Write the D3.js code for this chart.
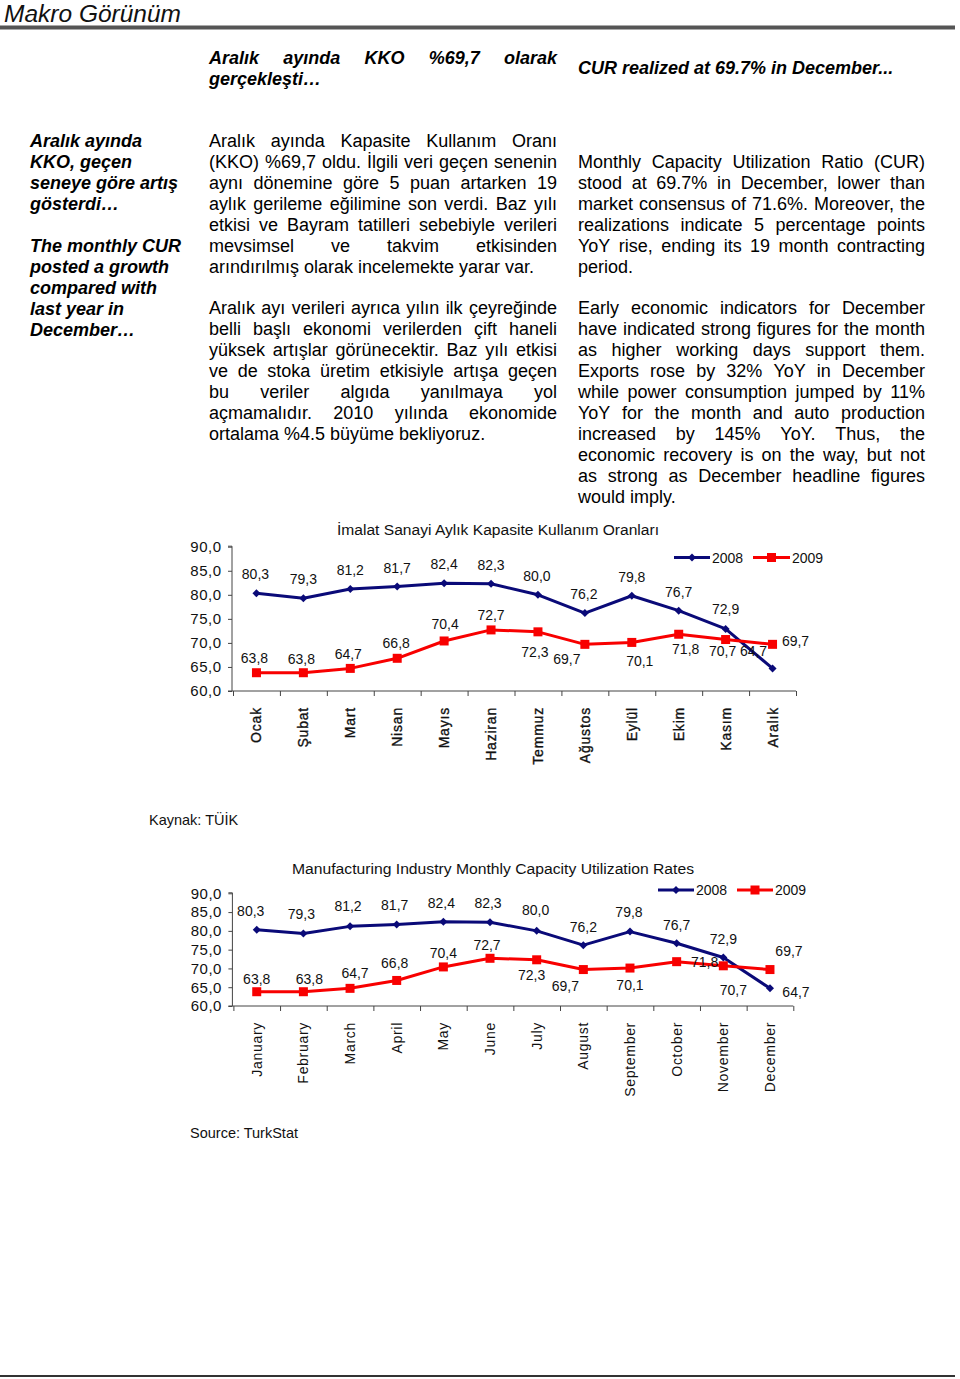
<!DOCTYPE html>
<html><head><meta charset="utf-8">
<script src="https://cdn.jsdelivr.net/npm/d3@7"></script>
<style>
html,body{margin:0;padding:0;background:#fff;}
svg{display:block;}
</style></head>
<body>
<svg id="page" width="960" height="1379"></svg>
<script>
// ---------- DATA ----------
const monthsTR = ["Ocak","Şubat","Mart","Nisan","Mayıs","Haziran","Temmuz","Ağustos","Eylül","Ekim","Kasım","Aralık"];
const monthsEN = ["January","February","March","April","May","June","July","August","September","October","November","December"];
const seriesNames = ["2008","2009"];
const cur2008 = [80.3,79.3,81.2,81.7,82.4,82.3,80.0,76.2,79.8,76.7,72.9,64.7];
const cur2009 = [63.8,63.8,64.7,66.8,70.4,72.7,72.3,69.7,70.1,71.8,70.7,69.7];
const yTicks = [60,65,70,75,80,85,90];
const titleTR = "İmalat Sanayi Aylık Kapasite Kullanım Oranları";
const titleEN = "Manufacturing Industry Monthly Capacity Utilization Rates";
const sourceTR = "Kaynak: TÜİK";
const sourceEN = "Source: TurkStat";

const pageTitle = "Makro Görünüm";
const headTR = ["Aralık ayında KKO %69,7 olarak","gerçekleşti…"];
const headEN = ["CUR realized at 69.7% in December..."];
const sideNote1 = ["Aralık ayında","KKO, geçen","seneye göre artış","gösterdi…"];
const sideNote2 = ["The monthly CUR","posted a growth","compared with","last year in","December…"];
const trPara1 = ["Aralık ayında Kapasite Kullanım Oranı","(KKO) %69,7 oldu. İlgili veri geçen senenin","aynı dönemine göre 5 puan artarken 19","aylık gerileme eğilimine son verdi. Baz yılı","etkisi ve Bayram tatilleri sebebiyle verileri","mevsimsel ve takvim etkisinden","arındırılmış olarak incelemekte yarar var."];
const trPara2 = ["Aralık ayı verileri ayrıca yılın ilk çeyreğinde","belli başlı ekonomi verilerden çift haneli","yüksek artışlar görünecektir. Baz yılı etkisi","ve de stoka üretim etkisiyle artışa geçen","bu veriler algıda yanılmaya yol","açmamalıdır. 2010 yılında ekonomide","ortalama %4.5 büyüme bekliyoruz."];
const enPara1 = ["Monthly Capacity Utilization Ratio (CUR)","stood at 69.7% in December, lower than","market consensus of 71.6%. Moreover, the","realizations indicate 5 percentage points","YoY rise, ending its 19 month contracting","period."];
const enPara2 = ["Early economic indicators for December","have indicated strong figures for the month","as higher working days support them.","Exports rose by 32% YoY in December","while power consumption jumped by 11%","YoY for the month and auto production","increased by 145% YoY. Thus, the","economic recovery is on the way, but not","as strong as December headline figures","would imply."];

// label placement offsets (pixels, relative to marker)
const lab1_2008 = [[-1,-19],[0,-19],[0,-19],[0,-19],[0,-19],[0,-19],[-1,-19],[-1,-19],[0,-19],[0,-19],[0,-20],[-19,-17]];
const lab1_2009 = [[-2,-15],[-2,-14],[-2,-14],[-1,-15],[1,-17],[0,-15],[-3,20],[-18,15],[8,19],[7,15],[-3,11],[23,-3]];
const lab2_2008 = [[-6,-19],[-2,-20],[-2,-20],[-2,-20],[-2,-19],[-2,-19],[-1,-21],[0,-18],[-1,-20],[0,-18],[0,-19],[26,4]];
const lab2_2009 = [[0,-13],[6,-13],[5,-15],[-2,-17],[0,-14],[-3,-13],[-5,15],[-18,16],[0,17],[28,0],[10,24],[19,-19]];

// ---------- PAGE ----------
const FONT = "'Liberation Sans', Arial, sans-serif";
const svg = d3.select("#page");

svg.append("text").attr("x",4).attr("y",22).attr("font-family",FONT).attr("font-style","italic")
  .attr("font-size",24.5).attr("fill","#111").text(pageTitle);
svg.append("rect").attr("x",0).attr("y",25.5).attr("width",955).attr("height",4).attr("fill","#555");
svg.append("rect").attr("x",0).attr("y",1375).attr("width",955).attr("height",2).attr("fill","#333");

function measure(str, attrs){
  const t = svg.append("text").attr("font-family",FONT);
  Object.entries(attrs).forEach(([k,v])=>t.attr(k,v));
  t.text(str);
  const w = t.node().getComputedTextLength();
  t.remove();
  return w;
}
function textBlock(lines, x0, x1, y0, lh, attrs, justifyLast){
  lines.forEach((ln,i)=>{
    const y = y0 + i*lh;
    const last = i === lines.length-1;
    const justify = x1 !== null && (!last || justifyLast);
    const words = ln.split(" ");
    if(!justify || words.length<2){
      const t = svg.append("text").attr("x",x0).attr("y",y).attr("font-family",FONT).attr("fill","#000");
      Object.entries(attrs).forEach(([k,v])=>t.attr(k,v));
      t.text(ln);
      return;
    }
    const ws = words.map(w=>measure(w,attrs));
    const total = d3.sum(ws);
    const gap = (x1-x0-total)/(words.length-1);
    let x = x0;
    words.forEach((w,j)=>{
      const t = svg.append("text").attr("x",x).attr("y",y).attr("font-family",FONT).attr("fill","#000");
      Object.entries(attrs).forEach(([k,v])=>t.attr(k,v));
      t.text(w);
      x += ws[j]+gap;
    });
  });
}
const bodyA = {"font-size":18};
const boldIt = {"font-size":18,"font-weight":"bold","font-style":"italic"};

textBlock(headTR, 209, 557, 64, 21, boldIt, false);
textBlock(headEN, 578, null, 74, 21, boldIt, false);
textBlock(sideNote1, 30, null, 147, 21, boldIt, false);
textBlock(sideNote2, 30, null, 252, 21, boldIt, false);
textBlock(trPara1, 209, 557, 147, 21, bodyA, false);
textBlock(trPara2, 209, 557, 314, 21, bodyA, false);
textBlock(enPara1, 578, 925, 168, 21, bodyA, false);
textBlock(enPara2, 578, 925, 314, 21, bodyA, false);

// ---------- CHARTS ----------
function drawChart(cfg){
  const g = svg.append("g");
  const x = d3.scaleBand().domain(cfg.months).range([cfg.x0, cfg.x1]);
  const xt = d3.scaleLinear().domain([0,12]).range([cfg.x0, cfg.x1]);
  const y = d3.scaleLinear().domain([60,90]).range([cfg.yBottom, cfg.yTop]);
  const cx = m => x(m) + x.bandwidth()/2;

  // title
  g.append("text").attr("x",cfg.titleX).attr("y",cfg.titleY).attr("text-anchor","middle")
    .attr("font-family",FONT).attr("font-size",14).attr("fill","#111")
    .attr("textLength",cfg.titleW).attr("lengthAdjust","spacingAndGlyphs").text(cfg.title);

  // y axis
  const ya = g.append("g").attr("transform",`translate(${cfg.x0-1},0)`)
    .call(d3.axisLeft(y).tickValues(yTicks).tickSize(4).tickPadding(7)
      .tickFormat(d=>d3.format(".1f")(d).replace(".",",")));
  ya.select(".domain").attr("stroke","#444").attr("d",`M-4,${cfg.yBottom}H0V${cfg.yTop-0.5}H-4`);
  ya.selectAll(".tick line").attr("stroke","#444");
  ya.selectAll(".tick text").attr("font-family",FONT).attr("font-size",15).attr("fill","#111")
    .attr("letter-spacing",0.5).attr("dx",0.5);

  // x axis
  const xa = g.append("g").attr("transform",`translate(0,${cfg.yBottom})`)
    .call(d3.axisBottom(xt).tickValues(d3.range(13)).tickSize(5).tickFormat(""));
  xa.select(".domain").attr("stroke","#444").attr("d",`M${cfg.x0-1},0H${cfg.x1}`);
  xa.selectAll(".tick line").attr("stroke","#444");

  // month labels
  g.selectAll(".mlab").data(cfg.months).enter().append("text")
    .attr("transform",d=>`translate(${cx(d)+5},${cfg.labTop}) rotate(-90)`)
    .attr("text-anchor","end").attr("font-family",FONT).attr("font-size",14)
    .attr("letter-spacing",cfg.monthLS).attr("fill","#111")
    .attr("stroke","#111").attr("stroke-width",cfg.monthStroke)
    .text(d=>d);

  const series = [
    {name:seriesNames[0], vals:cur2008, color:"#0a0a78", offs:cfg.off2008, marker:"diamond"},
    {name:seriesNames[1], vals:cur2009, color:"#f80000", offs:cfg.off2009, marker:"square"}
  ];
  const line = d3.line().x((d,i)=>cx(cfg.months[i])).y(d=>y(d));
  series.forEach(s=>{
    g.append("path").attr("d",line(s.vals)).attr("fill","none").attr("stroke",s.color)
      .attr("stroke-width",3).attr("stroke-linejoin","round");
  });
  function marker(sel, s, px, py){
    if(s.marker==="square"){
      sel.append("rect").attr("x",px-4.5).attr("y",py-4.5).attr("width",9).attr("height",9).attr("fill",s.color);
    } else {
      sel.append("path").attr("d",`M${px},${py-4}L${px+4},${py}L${px},${py+4}L${px-4},${py}Z`).attr("fill",s.color);
    }
  }
  series.forEach(s=>{
    s.vals.forEach((v,i)=>marker(g,s,cx(cfg.months[i]),y(v)));
  });
  series.forEach(s=>{
    g.selectAll(null).data(s.vals).enter().append("text")
      .attr("x",(d,i)=>cx(cfg.months[i])+s.offs[i][0])
      .attr("y",(d,i)=>y(d)+s.offs[i][1])
      .attr("dy","0.36em").attr("text-anchor","middle")
      .attr("font-family",FONT).attr("font-size",cfg.labFS).attr("fill","#111")
      .attr("letter-spacing",cfg.labLS)
      .text(d=>d3.format(".1f")(d).replace(".",","));
  });

  // legend
  cfg.legend.forEach((L,k)=>{
    const s = series[k];
    g.append("line").attr("x1",L[0]).attr("x2",L[1]).attr("y1",cfg.legY).attr("y2",cfg.legY)
      .attr("stroke",s.color).attr("stroke-width",3);
    marker(g,s,(L[0]+L[1])/2,cfg.legY);
    g.append("text").attr("x",L[1]+2).attr("y",cfg.legY).attr("dy","0.36em")
      .attr("font-family",FONT).attr("font-size",14).attr("fill","#111").text(s.name);
  });

  g.append("text").attr("x",cfg.srcX).attr("y",cfg.srcY).attr("font-family",FONT)
    .attr("font-size",14.5).attr("fill","#111").text(cfg.source);
}

drawChart({
  title:titleTR, titleX:498, titleY:535, titleW:322,
  months:monthsTR, x0:233, x1:796, yTop:546.7, yBottom:691,
  labTop:707, monthLS:0.8, monthStroke:0.35, labFS:14, labLS:0,
  off2008:lab1_2008, off2009:lab1_2009,
  legY:557.5, legend:[[674,710],[753,790]],
  source:sourceTR, srcX:149, srcY:825
});
drawChart({
  title:titleEN, titleX:493, titleY:874, titleW:402,
  months:monthsEN, x0:233.4, x1:793.3, yTop:893.3, yBottom:1006,
  labTop:1022, monthLS:0.7, monthStroke:0, labFS:14, labLS:0,
  off2008:lab2_2008, off2009:lab2_2009,
  legY:890, legend:[[658,694],[737,773]],
  source:sourceEN, srcX:190, srcY:1138
});
</script>
</body></html>
